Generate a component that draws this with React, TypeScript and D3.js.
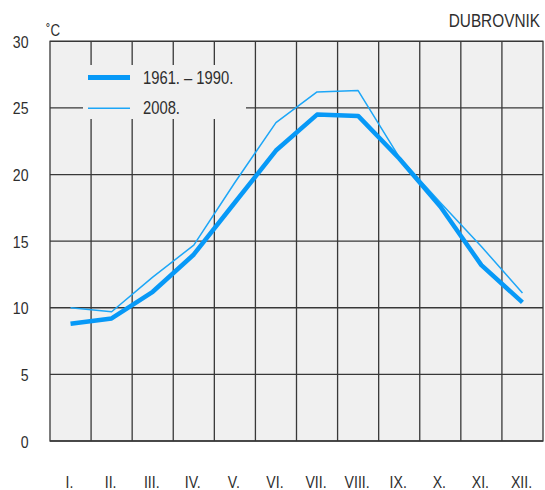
import React from "react";
import * as d3 from "d3";

const months = ["I.", "II.", "III.", "IV.", "V.", "VI.", "VII.", "VIII.", "IX.", "X.", "XI.", "XII."];
const normal = [8.8, 9.2, 11.2, 14.0, 17.9, 21.8, 24.5, 24.4, 21.2, 17.6, 13.2, 10.4];
const year2008 = [10.0, 9.7, 12.3, 14.7, 19.4, 23.9, 26.2, 26.3, 21.3, 17.9, 14.6, 11.1];
const yTicks = [0, 5, 10, 15, 20, 25, 30];
const seriesNames = ["1961. \u2013 1990.", "2008."];
const title = "DUBROVNIK";
const unit = "\u02DAC";

const W = 545, H = 490;
const L = 50, R = 543, T = 41.3, B = 441;
const BLUE = "#0799f7";
const BLUE_THIN = "#1ca6f7";
const GRID = "#383838";
const SX = 0.83;

function T2({ x, y, anchor, size, children }: any) {
  return (
    <text
      transform={`translate(${x},${y}) scale(${SX},1)`}
      textAnchor={anchor}
      fontSize={size}
      fontFamily="'Liberation Sans', Arial, sans-serif"
      fill="#2e2e2e"
    >
      {children}
    </text>
  );
}

export default function App() {
  const x = d3.scaleBand<string>().domain(months).range([L, R]).padding(0);
  const y = d3.scaleLinear().domain([0, 30]).range([B, T]);
  const cx = (m: string) => (x(m) as number) + x.bandwidth() / 2;
  const line = d3
    .line<number>()
    .x((_, i) => cx(months[i]))
    .y((v) => y(v));

  const bounds = months.map((m) => x(m) as number).slice(1);

  return (
    <svg width={W} height={H} style={{ position: "absolute", left: 0, top: 0, background: "#fff" }}>
      <rect x={L} y={T} width={R - L} height={B - T} fill="#f0f0f0" />
      {yTicks.map((t) => (
        <line key={"h" + t} x1={L} x2={R} y1={y(t)} y2={y(t)} stroke={GRID} strokeWidth={1.3} />
      ))}
      {bounds.map((b, i) => (
        <line key={"v" + i} x1={b} x2={b} y1={T} y2={B} stroke={GRID} strokeWidth={1.3} />
      ))}
      <rect x={L} y={T} width={R - L} height={B - T} fill="none" stroke={GRID} strokeWidth={1.3} />
      {/* legend box */}
      <rect x={83} y={65} width={163} height={54} fill="#f0f0f0" />
      <line x1={88} x2={130} y1={77.5} y2={77.5} stroke={BLUE} strokeWidth={5} />
      <line x1={88} x2={130} y1={108.3} y2={108.3} stroke={BLUE_THIN} strokeWidth={1.5} />
      <T2 x={143} y={84} anchor="start" size={17.8}>{seriesNames[0]}</T2>
      <T2 x={143} y={114} anchor="start" size={17.8}>{seriesNames[1]}</T2>
      {/* data */}
      <path d={line(year2008) || ""} fill="none" stroke={BLUE_THIN} strokeWidth={1.5} strokeLinejoin="round" />
      <path d={line(normal) || ""} fill="none" stroke={BLUE} strokeWidth={4.5} strokeLinejoin="round" />
      {/* axes labels */}
      {yTicks.map((t) => (
        <T2 key={"yl" + t} x={28.5} y={y(t) + 6.5} anchor="end" size={17}>
          {t}
        </T2>
      ))}
      {months.map((m) => (
        <T2 key={"xl" + m} x={cx(m) - 1} y={488} anchor="middle" size={17}>
          {m}
        </T2>
      ))}
      <T2 x={46} y={36} anchor="start" size={16}>{unit}</T2>
      <T2 x={540} y={27} anchor="end" size={18.5}>{title}</T2>
    </svg>
  );
}
